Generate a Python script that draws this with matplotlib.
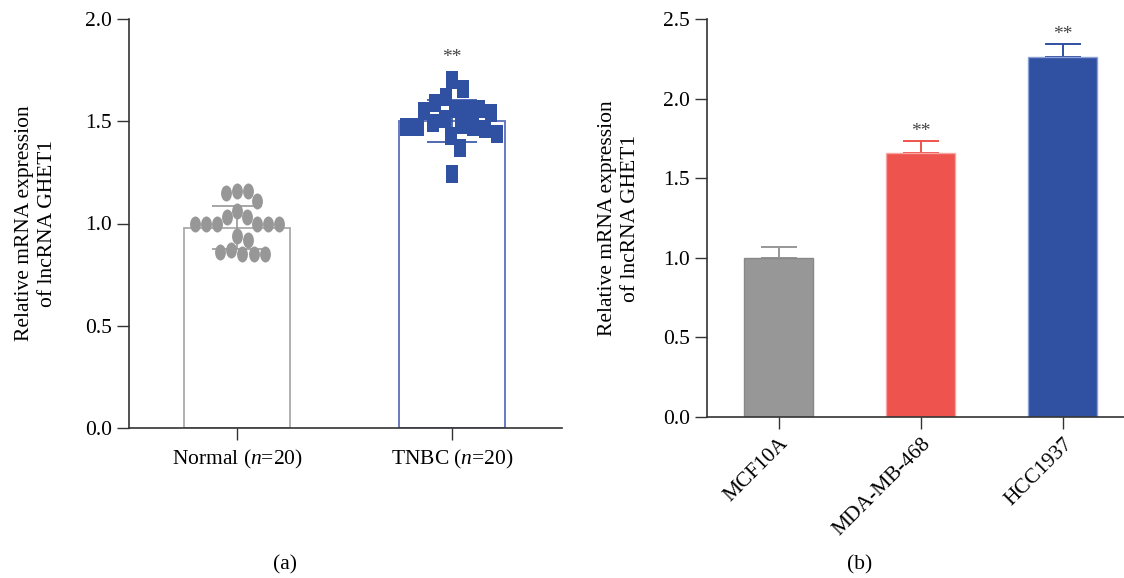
import numpy as np
import matplotlib.pyplot as plt
from matplotlib.path import Path

plt.rcParams['font.family'] = 'Liberation Serif'
plt.rcParams['mathtext.fontset'] = 'custom'
plt.rcParams['mathtext.rm'] = 'Liberation Serif'
plt.rcParams['mathtext.it'] = 'Liberation Serif:italic'

# (a) tissue samples
groups_a = ['Normal ($\\mathit{n}$=20)', 'TNBC ($\\mathit{n}$=20)']
normal = [1.11, 1.06, 1.03, 1.00, 1.15, 1.16, 1.16, 1.00, 1.00, 1.03,
          1.00, 1.00, 1.00, 0.92, 0.94, 0.87, 0.86, 0.85, 0.85, 0.85]
tnbc = [1.70, 1.66, 1.62, 1.59, 1.56, 1.56, 1.54, 1.56, 1.51, 1.55,
        1.46, 1.44, 1.43, 1.47, 1.48, 1.49, 1.47, 1.47, 1.37, 1.24]
mean_a = [0.98, 1.50]
sd_a = [0.105, 0.103]
ticks_a = [0.0, 0.5, 1.0, 1.5, 2.0]

# (b) cell lines
cells = ['MCF10A', 'MDA-MB-468', 'HCC1937']
mean_b = [1.0, 1.66, 2.26]
err_b = [0.07, 0.075, 0.085]
stars_b = ['', '**', '**']
ticks_b = [0.0, 0.5, 1.0, 1.5, 2.0, 2.5]

gray = '#979797'
red = '#ef534d'
blue = '#3050a2'
spine = '#333333'
fs = 15.5
ylab = 'Relative mRNA expression\nof lncRNA GHET1'


def ellipse_marker(rx, ry):
    c = Path.unit_circle()
    return Path(c.vertices * [rx, ry], c.codes)


def rect_marker(rx, ry):
    v = [[-rx, -ry], [rx, -ry], [rx, ry], [-rx, ry], [-rx, -ry]]
    return Path(v, [Path.MOVETO, Path.LINETO, Path.LINETO, Path.LINETO, Path.CLOSEPOLY])


def swarm(ax, vals, xc, w, h):
    # spread the points sideways (in pixels) so markers do not pile up
    pts = ax.transData.transform([(xc, v) for v in vals])
    x0 = pts[0, 0]
    ys = pts[:, 1]
    placed = []
    offs = np.zeros(len(vals))
    for i in np.argsort(ys)[::-1]:
        k = 0
        while True:
            off = ((k + 1) // 2) * (1 if k % 2 else -1)
            ok = all(((off - px) / w) ** 2 + ((ys[i] - py) / h) ** 2 >= 1 for px, py in placed)
            if ok:
                break
            k += 1
        placed.append((off, ys[i]))
        offs[i] = off
    xs = ax.transData.inverted().transform(np.column_stack([x0 + offs, ys]))[:, 0]
    return xs


def style(ax):
    for s in ['top', 'right']:
        ax.spines[s].set_visible(False)
    for s in ['left', 'bottom']:
        ax.spines[s].set_color(spine)
        ax.spines[s].set_linewidth(1.2)
    ax.tick_params(length=8.5, width=1.0, color=spine, labelsize=fs, pad=4)


fig = plt.figure(figsize=(11.24, 5.78), dpi=100)

# ---- panel (a)
ax1 = fig.add_axes([129 / 1124, 1 - 428 / 578, (562 - 129) / 1124, 409 / 578])
xa = np.arange(len(groups_a))
ax1.set_xlim(-0.502, 1.512)
ax1.set_ylim(0, 2.0)
ax1.bar(xa, mean_a, width=0.49, color='white', edgecolor=['#aaaaaa', '#5a70b8'], linewidth=1.3, zorder=1)
for x, m, s, c in zip(xa, mean_a, sd_a, [gray, blue]):
    ax1.errorbar(x, m, yerr=s, fmt='none', ecolor=c, elinewidth=1.2, capsize=18, capthick=1.2, zorder=2)

xs_n = swarm(ax1, normal, xa[0], 10.5, 17)
xs_t = swarm(ax1, tnbc, xa[1], 11.5, 19)
ax1.plot(xs_n, normal, ls='none', marker=ellipse_marker(0.68, 1.0), markersize=11.5,
         color=gray, markeredgewidth=0, zorder=3)
ax1.plot(xs_t, tnbc, ls='none', marker=rect_marker(0.66, 1.0), markersize=13,
         color=blue, markeredgewidth=0, zorder=3)
ax1.text(xa[1], 1.81, '**', ha='center', va='center', fontsize=14, color='#444444')

style(ax1)
ax1.set_xticks(xa)
ax1.set_xticklabels(groups_a)
ax1.tick_params(axis='x', pad=6)
ax1.set_yticks(ticks_a)
ax1.set_yticklabels(['%.1f' % t for t in ticks_a])
ax1.set_ylabel(ylab, fontsize=fs, linespacing=1.3)
ax1.yaxis.set_label_coords(-0.166, 0.5)

# ---- panel (b)
ax2 = fig.add_axes([707 / 1124, 1 - 417 / 578, (1124 - 707) / 1124, 398 / 578])
xb = np.arange(len(cells))
ax2.set_xlim(-0.507, 2.43)
ax2.set_ylim(0, 2.5)
colors_b = [gray, red, blue]
edges_b = ['#888888', '#f7a5a2', '#8c9fd6']
ax2.bar(xb, mean_b, width=0.486, color=colors_b, edgecolor=edges_b, linewidth=1.0, zorder=2)
for x, m, e, c in zip(xb, mean_b, err_b, [gray, red, blue]):
    ax2.errorbar(x, m, yerr=[[0], [e]], fmt='none', ecolor=c, elinewidth=1.4, capsize=13, capthick=1.4, zorder=1)
for x, m, e, st in zip(xb, mean_b, err_b, stars_b):
    if st:
        ax2.text(x, m + e + 0.06, st, ha='center', va='center', fontsize=14, color='#444444')

style(ax2)
ax2.set_xticks(xb)
ax2.set_xticklabels(cells, rotation=45, ha='right', va='top', rotation_mode='anchor')
ax2.set_yticks(ticks_b)
ax2.set_yticklabels(['%.1f' % t for t in ticks_b])
ax2.set_ylabel(ylab, fontsize=fs, linespacing=1.3)
ax2.yaxis.set_label_coords(-0.16, 0.5)

fig.text(285 / 1124, 1 - 565 / 578, '(a)', ha='center', va='center', fontsize=fs)
fig.text(860 / 1124, 1 - 565 / 578, '(b)', ha='center', va='center', fontsize=fs)

fig.savefig('out.png', dpi=100)
